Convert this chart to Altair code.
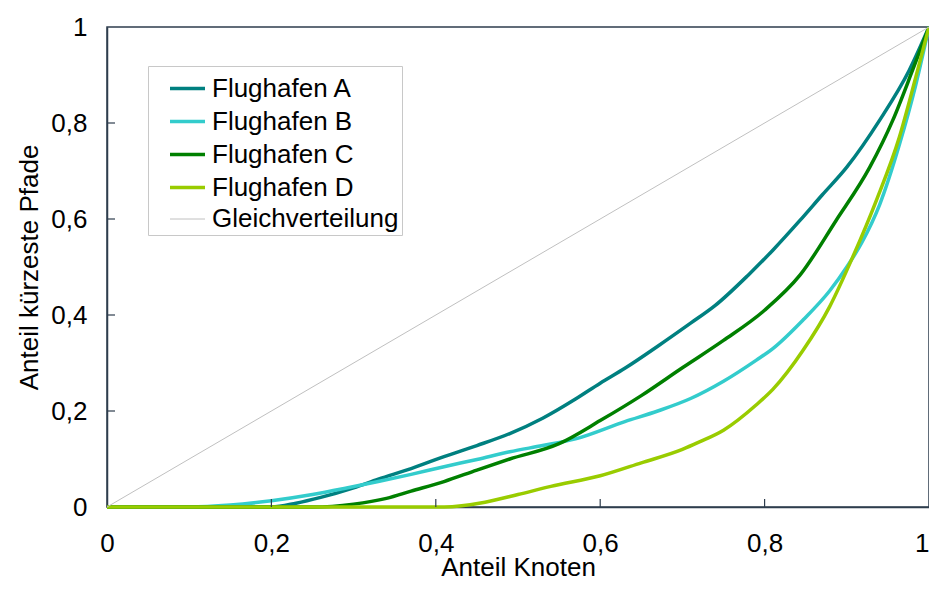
import altair as alt
import pandas as pd

# ---- data ----
series_names = ["Flughafen A", "Flughafen B", "Flughafen C", "Flughafen D", "Gleichverteilung"]
series_colors = ["#008080", "#33CCCC", "#008000", "#99CC00", "#C0C0C0"]
series_widths = [3.5, 3.5, 3.5, 3.5, 1]

x_A = [0, 0.2, 0.23, 0.26, 0.3, 0.33, 0.37, 0.41, 0.45, 0.49, 0.53, 0.57, 0.6, 0.63, 0.67, 0.71, 0.74, 0.78, 0.81, 0.843, 0.87, 0.9, 0.94, 0.976, 1]
y_A = [0, 0, 0.008, 0.02, 0.04, 0.058, 0.08, 0.105, 0.128, 0.153, 0.185, 0.225, 0.258, 0.289, 0.335, 0.383, 0.42, 0.483, 0.535, 0.597, 0.65, 0.708, 0.806, 0.91, 1]

x_B = [0, 0.1, 0.15, 0.2, 0.25, 0.29, 0.33, 0.37, 0.41, 0.45, 0.49, 0.53, 0.57, 0.63, 0.67, 0.71, 0.75, 0.79, 0.81, 0.847, 0.879, 0.9, 0.918, 0.94, 0.964, 0.984, 1]
y_B = [0, 0, 0.004, 0.013, 0.026, 0.039, 0.053, 0.068, 0.084, 0.099, 0.115, 0.128, 0.142, 0.178, 0.2, 0.226, 0.262, 0.306, 0.33, 0.39, 0.45, 0.5, 0.55, 0.63, 0.755, 0.88, 1]

x_C = [0, 0.25, 0.3, 0.34, 0.37, 0.41, 0.45, 0.49, 0.55, 0.6, 0.65, 0.7, 0.75, 0.8, 0.843, 0.887, 0.928, 0.956, 0.98, 1]
y_C = [0, 0, 0.006, 0.018, 0.033, 0.053, 0.077, 0.1, 0.132, 0.18, 0.232, 0.29, 0.347, 0.41, 0.483, 0.597, 0.708, 0.806, 0.91, 1]

x_D = [0, 0.41, 0.46, 0.5, 0.54, 0.6, 0.65, 0.7, 0.72, 0.75, 0.79, 0.81, 0.847, 0.879, 0.907, 0.936, 0.964, 0.984, 1]
y_D = [0, 0, 0.01, 0.026, 0.043, 0.065, 0.092, 0.12, 0.135, 0.16, 0.213, 0.245, 0.327, 0.417, 0.52, 0.639, 0.771, 0.896, 1]

x_G = [0, 1]
y_G = [0, 1]

x_ticks = [0, 0.2, 0.4, 0.6, 0.8, 1]
y_ticks = [0, 0.2, 0.4, 0.6, 0.8, 1]
inner_ticks = [0.2, 0.4, 0.6, 0.8]

# ---- table ----
rows = []
for name, xs, ys in zip(series_names, [x_A, x_B, x_C, x_D, x_G], [y_A, y_B, y_C, y_D, y_G]):
    for i, (xv, yv) in enumerate(zip(xs, ys)):
        rows.append({"series": name, "x": xv, "y": yv, "i": i})
df = pd.DataFrame(rows)
tick_df = pd.DataFrame({"t": inner_ticks})

FONT = "Liberation Sans"
AXIS_COLOR = "#2e3d4d"
label_expr = "replace(format(datum.value, '~g'), '.', ',')"

legend_spec = alt.Legend(
    orient="none", legendX=41, legendY=39, title=None,
    symbolType="stroke", symbolSize=1225, labelFontSize=26, labelFont=FONT,
    labelColor="#000000", strokeColor="#c8c8c8", fillColor="#ffffff",
    padding=3, symbolOffset=17, rowPadding=0, labelOffset=5, labelLimit=400,
)

lines = alt.Chart(df).mark_line(interpolate="monotone").encode(
    x=alt.X("x:Q", scale=alt.Scale(domain=[0, 1], nice=False, zero=False),
            axis=alt.Axis(values=x_ticks, title="Anteil Knoten", labelExpr=label_expr,
                          ticks=False, grid=False, labelPadding=23,
                          labelAlign=alt.condition("datum.value == 1", alt.value("right"), alt.value("center")),
                          titleBaseline="alphabetic", titleY=68,
                          labelFontSize=26, titleFontSize=26, labelFlush=False)),
    y=alt.Y("y:Q", scale=alt.Scale(domain=[0, 1], nice=False, zero=False),
            axis=alt.Axis(values=y_ticks, title="Anteil kürzeste Pfade", labelExpr=label_expr,
                          ticks=False, grid=False, labelPadding=20, titlePadding=8,
                          labelFontSize=26, titleFontSize=26, labelFlush=False)),
    color=alt.Color("series:N", scale=alt.Scale(domain=series_names, range=series_colors), legend=legend_spec),
    strokeWidth=alt.StrokeWidth("series:N", scale=alt.Scale(type="ordinal", domain=series_names, range=series_widths), legend=legend_spec),
    order="i:Q",
)

xticks = alt.Chart(tick_df).mark_rule(color=AXIS_COLOR, strokeWidth=1.2).encode(
    x="t:Q", y=alt.value(480), y2=alt.value(472)
)
yticks = alt.Chart(tick_df).mark_rule(color=AXIS_COLOR, strokeWidth=1.2).encode(
    y="t:Q", x=alt.value(0), x2=alt.value(8)
)

chart = alt.layer(lines, xticks, yticks).properties(
    width=822, height=480,
    autosize=alt.AutoSizeParams(type="none"),
    padding={"left": 99, "top": 19, "right": 0, "bottom": 74},
).configure_axis(
    labelFont=FONT, titleFont=FONT, labelColor="#000000", titleColor="#000000",
    titleFontWeight="normal", domainColor=AXIS_COLOR, domainWidth=1.5,
).configure_view(
    stroke=AXIS_COLOR, strokeWidth=1.5
)

chart.save("out.html", embed_options={"renderer": "svg", "actions": False})
